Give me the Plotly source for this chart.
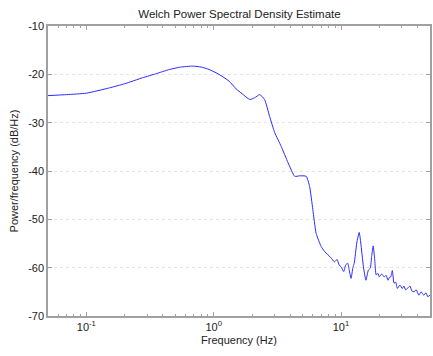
import plotly.graph_objects as go

freq_hz = [0.05, 0.07, 0.1, 0.152, 0.2, 0.277, 0.35, 0.449, 0.55, 0.683, 0.8, 0.92,
           1.1, 1.32, 1.5, 1.67, 1.92, 2.1, 2.3, 2.51, 2.75, 3.02, 3.39, 3.84, 4.33,
           4.73, 5.33, 5.67, 6.01, 6.38, 6.98, 7.4, 7.87, 8.3, 8.88, 9.3, 9.7, 10.0,
           10.5, 10.9, 11.3, 11.6, 12.0, 12.4, 12.7, 13.3, 13.9, 14.3, 15.0, 15.7,
           16.4, 17.0, 17.4, 17.9, 18.4, 18.9, 19.5, 20.0, 20.9, 21.8, 22.6, 23.4,
           24.0, 24.6, 25.3, 26.1, 26.9, 27.7, 29.0, 30.3, 31.2, 32.2, 33.5, 34.8,
           36.0, 37.4, 39.0, 40.9, 42.5, 44.7, 46.5, 48.0, 50.0]
psd_db = [-24.4, -24.2, -23.9, -22.8, -21.95, -20.7, -19.9, -19.0, -18.5, -18.3, -18.5, -19.0,
          -20.0, -21.4, -23.0, -24.0, -25.2, -24.85, -24.2, -25.2, -28.7, -32.1, -34.9, -38.3, -41.1,
          -41.0, -41.1, -43.2, -48.0, -52.9, -55.6, -56.6, -57.3, -57.9, -58.8, -58.3, -59.5, -59.8,
          -60.8, -59.4, -59.1, -60.5, -62.2, -60.0, -59.1, -54.9, -52.7, -54.9, -59.8, -62.6,
          -60.5, -60.1, -57.7, -55.5, -58.4, -61.5, -61.2, -61.9, -61.3, -61.9, -61.6, -62.6,
          -62.0, -61.9, -60.6, -63.2, -63.0, -64.3, -63.6, -64.3, -63.8, -64.6, -64.2, -63.8,
          -64.8, -65.0, -64.6, -65.7, -65.0, -65.7, -65.2, -66.0, -65.7]

x_tick_vals = [0.1, 1, 10]
x_tick_text = ["10<sup>-1</sup>", "10<sup>0</sup>", "10<sup>1</sup>"]
y_tick_vals = [-10, -20, -30, -40, -50, -60, -70]
y_tick_text = ["-10", "-20", "-30", "-40", "-50", "-60", "-70"]

font_family = "Liberation Sans, Arial, sans-serif"
axis_col = "#a0a0a0"
text_col = "#222222"

fig = go.Figure()
fig.add_trace(go.Scatter(x=freq_hz, y=psd_db, mode="lines",
                         line=dict(color="#2b2bff", width=1, shape="spline", smoothing=0.5),
                         showlegend=False, hoverinfo="skip"))

fig.update_layout(
    width=433, height=356,
    margin=dict(l=48, r=1, t=26, b=40),
    paper_bgcolor="white", plot_bgcolor="white",
    font=dict(family=font_family, size=11, color=text_col),
    title=dict(text="Welch Power Spectral Density Estimate", x=0.553, xanchor="center",
               y=1 - 14 / 356, yanchor="middle", font=dict(size=11.5, color=text_col)),
    xaxis=dict(type="log", range=[-1.30103, 1.69897],
               tickvals=x_tick_vals, ticktext=x_tick_text,
               ticks="inside", ticklen=4, tickcolor=axis_col,
               showline=True, linecolor=axis_col, linewidth=1.5, mirror="ticks",
               showgrid=False, zeroline=False,
               minor=dict(ticks="inside", ticklen=2, tickcolor=axis_col, showgrid=False,
                          dtick="D1"),
               tickfont=dict(size=11, color=text_col),
               title=dict(text="Frequency (Hz)", standoff=4, font=dict(size=11, color=text_col))),
    yaxis=dict(range=[-70, -10], tickvals=y_tick_vals, ticktext=y_tick_text,
               ticks="inside", ticklen=4, tickcolor=axis_col,
               showline=True, linecolor=axis_col, linewidth=1.5, mirror="ticks",
               showgrid=True, gridcolor="#e4e4e4", griddash="dot", gridwidth=1,
               zeroline=False,
               tickfont=dict(size=11, color=text_col),
               title=dict(text="Power/frequency (dB/Hz)", standoff=7,
                          font=dict(size=11, color=text_col))),
)

fig.write_html("out.html")
